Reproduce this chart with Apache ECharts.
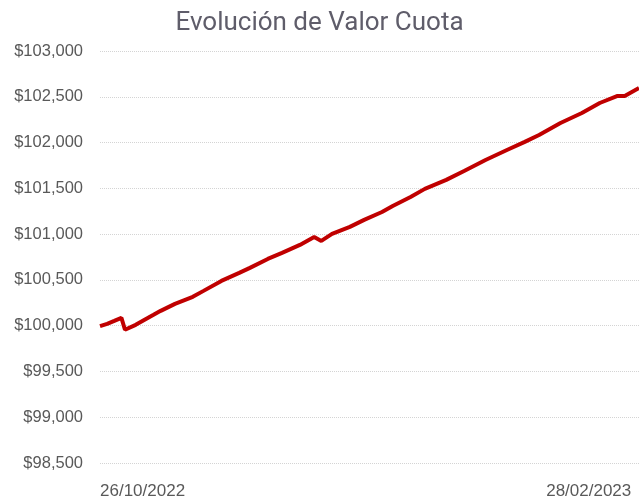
<!DOCTYPE html>
<html>
<head>
<meta charset="utf-8">
<script src="https://cdn.jsdelivr.net/npm/echarts@6/dist/echarts.min.js"></script>
<style>
  html, body { margin: 0; padding: 0; background: #fff; }
  #chart { width: 639px; height: 504px; }
</style>
</head>
<body>
<div id="chart"></div>
<script>
// fechas y valores cuota
const dates = [
  '2022-10-26', '2022-10-28', '2022-10-30', '2022-11-01', '2022-11-02', '2022-11-05',
  '2022-11-10', '2022-11-12', '2022-11-16', '2022-11-21', '2022-11-24', '2022-11-29',
  '2022-12-04', '2022-12-07', '2022-12-12', '2022-12-16', '2022-12-21', '2022-12-25',
  '2022-12-27', '2022-12-30', '2023-01-04', '2023-01-08', '2023-01-13', '2023-01-16',
  '2023-01-21', '2023-01-25', '2023-01-31', '2023-02-05', '2023-02-11', '2023-02-17',
  '2023-02-22', '2023-02-26', '2023-03-04', '2023-03-10', '2023-03-15', '2023-03-20',
  '2023-03-22', '2023-03-26'
]
const values = [
  99995, 100020, 100052, 100085, 99955, 100009,
  100118, 100162, 100238, 100315, 100380, 100489,
  100576, 100631, 100729, 100795, 100882, 100969,
  100926, 101002, 101079, 101155, 101242, 101308,
  101406, 101494, 101592, 101690, 101810, 101919,
  102007, 102083, 102214, 102323, 102432, 102509,
  102509, 102596
]
const labelDates = ['2022-10-26', '2023-02-28']
const yMin = 98500
const yMax = 103000
const yStep = 500

const DAY = 86400000
const ts = (s) => {
  const p = s.split('-')
  return Date.UTC(+p[0], +p[1] - 1, +p[2])
}
const t0 = ts(dates[0])
const dayOf = (s) => Math.round((ts(s) - t0) / DAY)
const pad = (n) => (n < 10 ? '0' : '') + n
const fmtDay = (d) => {
  const dt = new Date(t0 + d * DAY)
  return pad(dt.getUTCDate()) + '/' + pad(dt.getUTCMonth() + 1) + '/' + dt.getUTCFullYear()
}

const dom = document.getElementById('chart')
const chart = echarts.init(dom)

const option = {
  animation: false,
  title: {
    text: 'Evolución de Valor Cuota',
    left: 'center',
    top: 5,
    textStyle: {
      fontFamily: 'Roboto, sans-serif',
      fontSize: 26,
      fontWeight: 'normal',
      color: '#5f5d6a'
    }
  },
  grid: { left: 100, right: 0, top: 51, bottom: 41 },
  xAxis: {
    type: 'value',
    min: 0,
    max: dayOf(dates[dates.length - 1]),
    axisLine: { show: false },
    axisTick: { show: false },
    splitLine: { show: false },
    axisLabel: {
      customValues: labelDates.map(dayOf),
      align: 'left',
      margin: 20,
      color: '#595959',
      fontFamily: 'Liberation Sans, Arial, sans-serif',
      fontSize: 17,
      hideOverlap: false,
      formatter: (v) => fmtDay(v)
    }
  },
  yAxis: {
    type: 'value',
    min: yMin,
    max: yMax,
    interval: yStep,
    axisLine: { show: false },
    axisTick: { show: false },
    axisLabel: {
      margin: 17,
      color: '#595959',
      fontFamily: 'Liberation Sans, Arial, sans-serif',
      fontSize: 16.5,
      formatter: (v) => '$' + v.toLocaleString('en-US')
    },
    splitLine: { lineStyle: { color: '#d4d4d4', type: 'dotted', width: 1 } }
  },
  series: [{
    type: 'line',
    data: dates.map((d, i) => [dayOf(d), values[i]]),
    showSymbol: false,
    lineStyle: { color: '#c00000', width: 4 },
    itemStyle: { color: '#c00000' }
  }]
}

option && chart.setOption(option)

window.addEventListener('resize', function () {
  chart.resize()
})
</script>
</body>
</html>
